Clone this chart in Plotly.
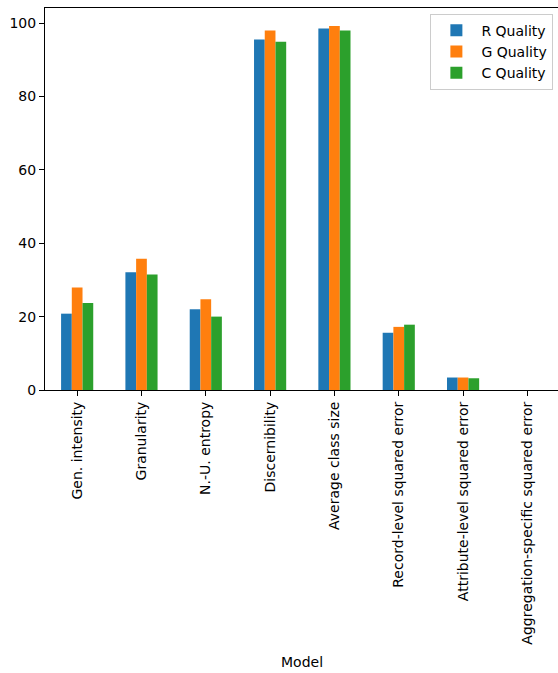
import plotly.graph_objects as go

# Quality metrics per privacy model
categories = [
    "Gen. intensity",
    "Granularity",
    "N.-U. entropy",
    "Discernibility",
    "Average class size",
    "Record-level squared error",
    "Attribute-level squared error",
    "Aggregation-specific squared error",
]
r_quality = [20.8, 32.1, 22.0, 95.5, 98.5, 15.6, 3.4, 0.0]
g_quality = [27.9, 35.8, 24.7, 98.0, 99.2, 17.2, 3.4, 0.0]
c_quality = [23.7, 31.5, 20.0, 94.9, 98.0, 17.8, 3.2, 0.0]

series = [
    ("R Quality", r_quality, "#1f77b4"),
    ("G Quality", g_quality, "#ff7f0e"),
    ("C Quality", c_quality, "#2ca02c"),
]

FONT = "DejaVu Sans"

fig = go.Figure()
for name, vals, color in series:
    fig.add_trace(go.Bar(
        x=categories, y=vals, name=name,
        marker=dict(color=color, line=dict(width=0)),
    ))

fig.update_layout(
    width=558, height=673,
    margin=dict(l=45, r=0, t=8, b=283),
    paper_bgcolor="white", plot_bgcolor="white",
    barmode="group", bargap=0.5, bargroupgap=0,
    font=dict(family=FONT, size=14, color="black"),
    showlegend=True,
    legend=dict(
        x=0.991, y=0.985, xanchor="right", yanchor="top",
        bgcolor="rgba(255,255,255,0.8)", bordercolor="#cccccc", borderwidth=1,
        font=dict(family=FONT, size=14, color="black"),
        tracegroupgap=0, itemwidth=40,
    ),
    xaxis=dict(
        type="category", range=[-0.5, 7.476],
        showline=True, linecolor="black", linewidth=1.1, mirror=True,
        ticks="outside", ticklen=5, tickcolor="black", tickwidth=1,
        tickangle=-90, showgrid=False, zeroline=False,
        tickfont=dict(family=FONT, size=14, color="black"),
    ),
    yaxis=dict(
        range=[0, 104.1],
        showline=True, linecolor="black", linewidth=1.1,
        ticks="outside", ticklen=5, tickcolor="black", tickwidth=1,
        tickvals=[0, 20, 40, 60, 80, 100],
        showgrid=False, zeroline=False,
        tickfont=dict(family=FONT, size=14, color="black"),
    ),
    annotations=[dict(
        text="Model", xref="paper", yref="paper", x=0.5, y=-0.712,
        xanchor="center", yanchor="middle", showarrow=False,
        font=dict(family=FONT, size=14, color="black"),
    )],
)

fig.write_html("out.html")
